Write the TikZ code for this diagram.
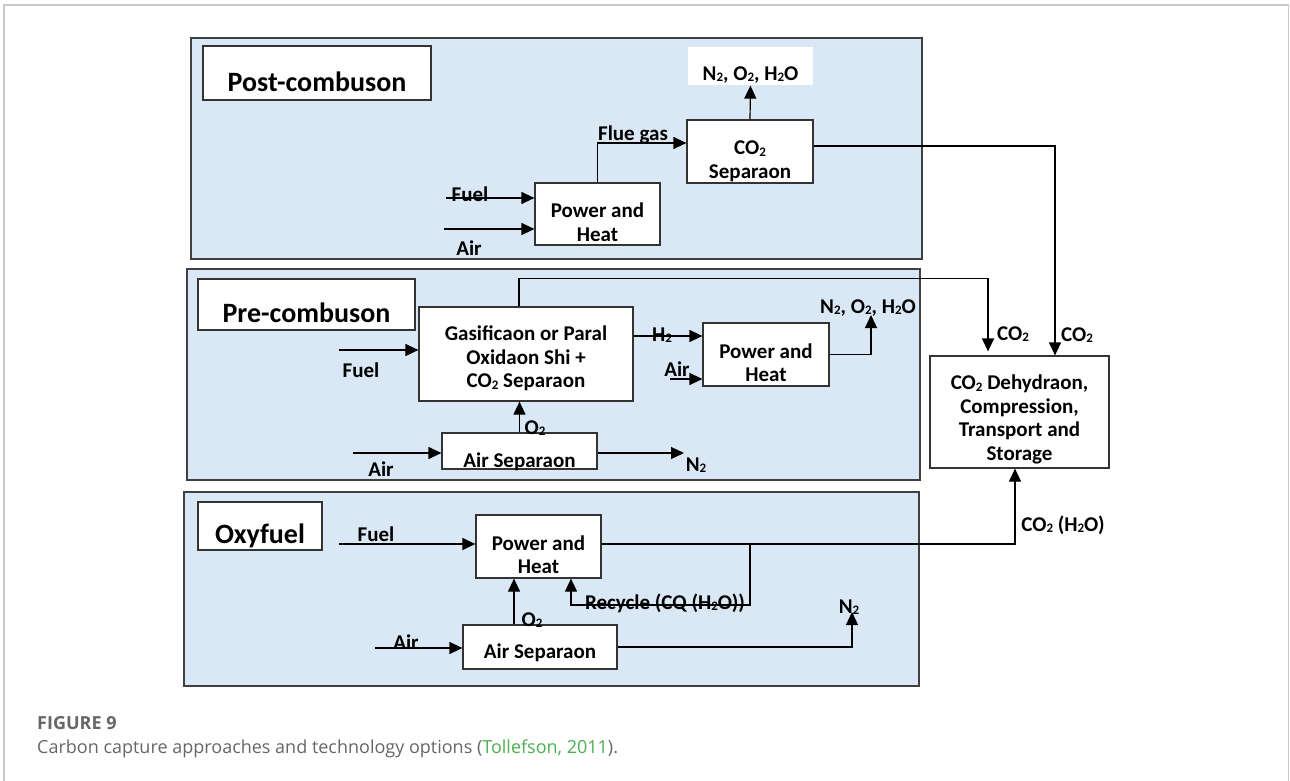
\documentclass[tikz,border=0pt]{standalone}
\usepackage{fontspec}
\usetikzlibrary{arrows.meta}
\newfontfamily\diafont{Carlito}
\newfontfamily\capfont{Open Sans}
\definecolor{panelblue}{HTML}{DAE7F4}
\definecolor{capgray}{HTML}{666666}
\definecolor{capgreen}{HTML}{4CAF50}
\definecolor{edgegray}{HTML}{C8C8C8}
\newcommand{\subsc}[1]{\raisebox{-1.5pt}{\fontsize{13}{13}\selectfont #1}}
\tikzset{lowText/.style={execute at begin node={\rule{0pt}{#1}}}}

\begin{document}
\begin{tikzpicture}[x=1pt, y=-1pt, font=\diafont\bfseries\fontsize{21}{23.5}\selectfont]
	\tikzstyle{panelStyle}=[draw=black!75, fill=panelblue, line width=1.3pt]
	\tikzstyle{boxStyle}=[draw=black!80, fill=white, line width=1.2pt, align=center, inner sep=1pt]
	\tikzstyle{titleStyle}=[boxStyle, font=\diafont\bfseries\fontsize{28}{30}\selectfont]
	\tikzstyle{flowStyle}=[line width=1.2pt, -{Triangle[length=13pt,width=12pt]}]
	\tikzstyle{textStyle}=[inner sep=0pt]
	\tikzstyle{capStyle}=[anchor=base west, inner sep=0pt, text=capgray]
	\useasboundingbox (0,0) rectangle (1290,781);
	\draw[edgegray, line width=1.5pt] (4,781) -- (4,5) -- (1288.5,5) -- (1288.5,781);
	\draw[panelStyle] (191,38) rectangle (922,259);
	\draw[panelStyle] (187,269) rectangle (920,480);
	\draw[panelStyle] (184,492) rectangle (919,686);
	\node[titleStyle, minimum width=228, minimum height=54, lowText=37.3pt] (t1) at (317,73) {Post-combuson};
	\node[titleStyle, minimum width=217, minimum height=51, lowText=36.3pt] (t2) at (306.5,304.5) {Pre-combuson};
	\node[titleStyle, minimum width=124, minimum height=48, lowText=40pt] (t3) at (260,526) {Oxyfuel};
	\node[boxStyle, minimum width=125, minimum height=62, lowText=55pt] (pw1) at (597.5,214) {Power and\\Heat};
	\node[boxStyle, minimum width=126, minimum height=63, lowText=56.7pt] (cs1) at (750,151.5) {CO\subsc{2}\\Separaon};
	\node[boxStyle, draw=none, minimum width=125, minimum height=38, lowText=31.2pt] (o1) at (750.5,66) {N\subsc{2}, O\subsc{2}, H\subsc{2}O};
	\node[boxStyle, minimum width=214, minimum height=94, lowText=70.5pt] (gs) at (526,354) {Gasificaon or Paral\\Oxidaon Shi +\\CO\subsc{2} Separaon};
	\node[boxStyle, minimum width=126, minimum height=63, lowText=55pt] (pw2) at (766,354.5) {Power and\\Heat};
	\node[boxStyle, minimum width=155, minimum height=36, text depth=0pt, lowText=33.5pt] (as2) at (519.5,451) {Air Separaon};
	\node[boxStyle, minimum width=179, minimum height=112, lowText=100pt] (st) at (1019.5,412) {CO\subsc{2} Dehydraon,\\Compression,\\Transport and\\Storage};
	\node[boxStyle, minimum width=125, minimum height=63, lowText=55pt] (pw3) at (538.5,546.5) {Power and\\Heat};
	\node[boxStyle, minimum width=154, minimum height=44, lowText=26.5pt] (as3) at (540,647) {Air Separaon};
	\coordinate (f1) at (446,198);
	\coordinate (a1) at (444,229);
	\coordinate (f2) at (339,350);
	\coordinate (a2) at (353,453);
	\coordinate (a2b) at (670,379);
	\coordinate (n2) at (684,453);
	\coordinate (o2) at (871,315);
	\coordinate (f3) at (339,544);
	\coordinate (a3) at (375,648);
	\coordinate (rc) at (750,544);
	\coordinate (n3) at (852,612);
	\node[textStyle] (f1t) at (470,194) {Fuel};
	\node[textStyle] (a1t) at (469,248) {Air};
	\node[textStyle] (fgt) at (633,135) {Flue gas};
	\node[textStyle] (f2t) at (361,370) {Fuel};
	\node[textStyle] (h2t) at (662,335) {H\subsc{2}};
	\node[textStyle] (a2bt) at (677,369) {Air};
	\node[textStyle] (o2t) at (868,308) {N\subsc{2}, O\subsc{2}, H\subsc{2}O};
	\node[textStyle] (x2t) at (535,428) {O\subsc{2}};
	\node[textStyle] (a2t) at (381,469) {Air};
	\node[textStyle] (n2t) at (696,465) {N\subsc{2}};
	\node[textStyle] (c1t) at (1013,334) {CO\subsc{2}};
	\node[textStyle] (c2t) at (1077,335) {CO\subsc{2}};
	\node[textStyle] (f3t) at (376,534) {Fuel};
	\node[textStyle] (rct) at (665,603) {Recycle (CQ (H\subsc{2}O))};
	\node[textStyle] (x3t) at (532,620) {O\subsc{2}};
	\node[textStyle] (a3t) at (406,642) {Air};
	\node[textStyle] (n3t) at (849,607) {N\subsc{2}};
	\node[textStyle] (cht) at (1063,525) {CO\subsc{2} (H\subsc{2}O)};
	\draw[flowStyle] (f1) -- (f1 -| pw1.west);
	\draw[flowStyle] (a1) -- (a1 -| pw1.west);
	\draw[flowStyle] (pw1.north) |- ([yshift=8.5pt]cs1.west);
	\draw[flowStyle] (cs1.north) -- (o1.south);
	\draw[flowStyle] ([yshift=5.5pt]cs1.east) -| ([xshift=35.5pt]st.north);
	\draw[flowStyle] (f2) -- (f2 -| gs.west);
	\draw[flowStyle] ([yshift=18pt]gs.east) -- ([yshift=18pt]gs.east -| pw2.west);
	\draw[flowStyle] (a2b) -- (a2b -| pw2.west);
	\draw[flowStyle] (pw2.east) -| (o2);
	\draw[flowStyle] (as2.north) -- (as2.north |- gs.south);
	\draw[flowStyle] (a2) -- (a2 -| as2.west);
	\draw[flowStyle] (n2 -| as2.east) -- (n2);
	\draw[flowStyle] ([xshift=-7pt]gs.north) -- ++(0,-28) -| ([xshift=-31.5pt,yshift=4pt]st.north);
	\draw[flowStyle] (f3) -- (f3 -| pw3.west);
	\draw[flowStyle] (f3 -| pw3.east) -| ([xshift=-4.5pt]st.south);
	\draw[flowStyle] (rc) -- ++(0,61) -| ([xshift=32.5pt]pw3.south);
	\draw[flowStyle] ([xshift=-26pt]as3.north) -- ([xshift=-26pt]as3.north |- pw3.south);
	\draw[flowStyle] (a3) -- (a3 -| as3.west);
	\draw[flowStyle] (as3.east) -| (n3);
	\node[capStyle, font=\capfont\bfseries\fontsize{18}{21}\selectfont] (fig) at (37,729) {FIGURE 9};
	\node[capStyle, font=\capfont\fontsize{18}{21}\selectfont] (cap) at (37,753) {Carbon capture approaches and technology options (\textcolor{capgreen}{Tollefson, 2011}).};
\end{tikzpicture}
\end{document}
